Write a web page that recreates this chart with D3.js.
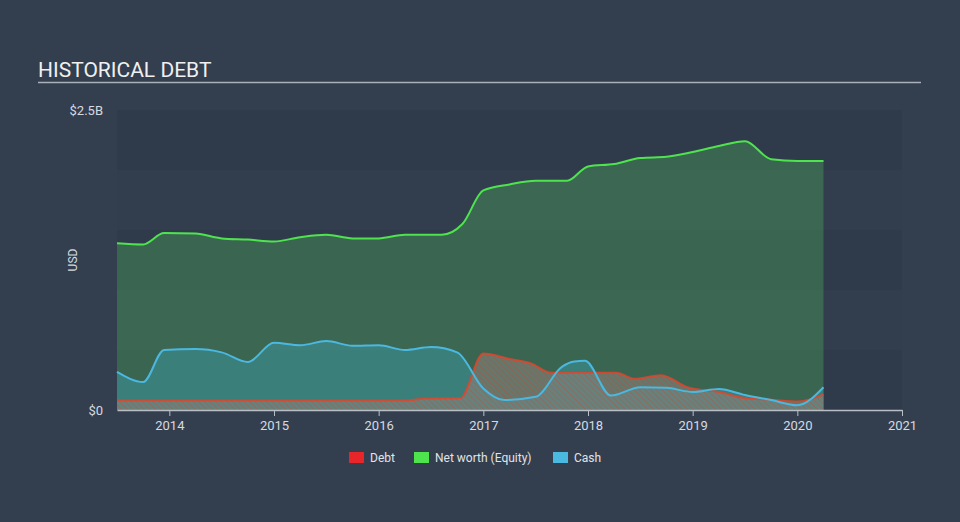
<!DOCTYPE html>
<html>
<head>
<meta charset="utf-8">
<script src="https://cdn.jsdelivr.net/npm/d3@7"></script>
<style>
  body { margin: 0; background: #333f4f; }
  svg { display: block; font-family: Roboto, "Open Sans", sans-serif; }
</style>
</head>
<body>
<svg id="chart" width="960" height="522"></svg>
<script>
// values in billions USD, dates as decimal years
const debtDates = [2013.5, 2014, 2015, 2016, 2016.25, 2016.45, 2016.78, 2017.0, 2017.25, 2017.45, 2017.65, 2018.0, 2018.27, 2018.45, 2018.7, 2018.95, 2019.25, 2019.5, 2019.75, 2020.0, 2020.25];
const debtValues = [0.08, 0.08, 0.08, 0.08, 0.08, 0.095, 0.10, 0.47, 0.425, 0.39, 0.31, 0.31, 0.31, 0.26, 0.29, 0.19, 0.15, 0.10, 0.085, 0.07, 0.13];

const equityDates = [2013.5, 2013.75, 2013.95, 2014.25, 2014.5, 2014.75, 2015.0, 2015.25, 2015.5, 2015.75, 2016.0, 2016.25, 2016.6, 2016.8, 2017.0, 2017.25, 2017.5, 2017.8, 2018.0, 2018.25, 2018.5, 2018.75, 2019.0, 2019.25, 2019.5, 2019.75, 2020.0, 2020.25];
const equityValues = [1.39, 1.38, 1.475, 1.47, 1.43, 1.42, 1.405, 1.44, 1.46, 1.43, 1.43, 1.46, 1.46, 1.55, 1.83, 1.88, 1.91, 1.91, 2.03, 2.05, 2.10, 2.11, 2.15, 2.20, 2.24, 2.09, 2.075, 2.075];

const cashDates = [2013.5, 2013.75, 2013.95, 2014.25, 2014.5, 2014.75, 2015.0, 2015.25, 2015.5, 2015.75, 2016.0, 2016.25, 2016.5, 2016.75, 2017.0, 2017.2, 2017.5, 2017.75, 2017.87, 2017.97, 2018.22, 2018.5, 2018.75, 2019.0, 2019.25, 2019.5, 2019.75, 2020.0, 2020.25];
const cashValues = [0.317, 0.233, 0.50, 0.508, 0.48, 0.40, 0.56, 0.54, 0.575, 0.535, 0.54, 0.50, 0.525, 0.48, 0.18, 0.083, 0.11, 0.36, 0.405, 0.41, 0.12, 0.19, 0.185, 0.15, 0.175, 0.125, 0.083, 0.04, 0.19];

const yearTicks = [2014, 2015, 2016, 2017, 2018, 2019, 2020, 2021];
const bandEdges = [0, 0.5, 1, 1.5, 2, 2.5];
const legendItems = [
  { name: "Debt", color: "#e8262a" },
  { name: "Net worth (Equity)", color: "#4ee44e" },
  { name: "Cash", color: "#4bb8e0" }
];

const svg = d3.select("#chart");
const margin = { left: 117, right: 58, top: 110, bottom: 112 };
const width = 960, height = 522;

const x = d3.scaleLinear().domain([2013.5, 2021]).range([margin.left, width - margin.right]);
const y = d3.scaleLinear().domain([0, 2.5]).range([height - margin.bottom, margin.top]);

// title
svg.append("text")
  .attr("x", 38).attr("y", 77)
  .attr("fill", "#f0f0f0")
  .attr("font-size", 21)
  .text("HISTORICAL DEBT");
svg.append("line")
  .attr("x1", 38).attr("x2", 921)
  .attr("y1", 82.5).attr("y2", 82.5)
  .attr("stroke", "#a9b0b9").attr("stroke-width", 1.5);

// background bands
const bands = d3.pairs(bandEdges);
svg.append("g").selectAll("rect")
  .data(bands)
  .join("rect")
  .attr("x", x.range()[0])
  .attr("width", x.range()[1] - x.range()[0])
  .attr("y", d => y(d[1]))
  .attr("height", d => y(d[0]) - y(d[1]))
  .attr("fill", (d, i) => i % 2 === 0 ? "#2f3b4a" : "#323e4e");

// hatch pattern for debt
const defs = svg.append("defs");
const pat = defs.append("pattern")
  .attr("id", "hatch")
  .attr("patternUnits", "userSpaceOnUse")
  .attr("width", 4).attr("height", 4)
  .attr("patternTransform", "rotate(-45)");
pat.append("rect").attr("width", 4).attr("height", 4).attr("fill", "#8a8480").attr("opacity", 0.55);
pat.append("line").attr("x1", 0).attr("y1", 0).attr("x2", 0).attr("y2", 4)
  .attr("stroke", "#b8503c").attr("stroke-width", 1.6).attr("opacity", 0.6);

const toPts = (dates, vals) => dates.map((d, i) => [d, vals[i]]);
const equity = toPts(equityDates, equityValues);
const cash = toPts(cashDates, cashValues);
const debt = toPts(debtDates, debtValues);

const curve = d3.curveMonotoneX;
const area = d3.area().x(d => x(d[0])).y0(y(0)).y1(d => y(d[1])).curve(curve);
const line = d3.line().x(d => x(d[0])).y(d => y(d[1])).curve(curve);

svg.append("path").datum(equity).attr("d", area)
  .attr("fill", "#4a9a5a").attr("fill-opacity", 0.45);
svg.append("path").datum(cash).attr("d", area)
  .attr("fill", "#3fa0b0").attr("fill-opacity", 0.45);
svg.append("path").datum(debt).attr("d", area)
  .attr("fill", "url(#hatch)");

svg.append("path").datum(debt).attr("d", line)
  .attr("fill", "none").attr("stroke", "#e0452a").attr("stroke-width", 2).attr("stroke-opacity", 0.85);
svg.append("path").datum(equity).attr("d", line)
  .attr("fill", "none").attr("stroke", "#4ee44e").attr("stroke-width", 2);
svg.append("path").datum(cash).attr("d", line)
  .attr("fill", "none").attr("stroke", "#4bb8e0").attr("stroke-width", 2);

// x axis
const xAxis = svg.append("g")
  .attr("transform", `translate(0,${y(0)})`)
  .call(d3.axisBottom(x).tickValues(yearTicks).tickFormat(d3.format("d")).tickSize(6).tickSizeOuter(0));
xAxis.select(".domain").attr("stroke", "#b8bec6").attr("stroke-width", 1.5);
xAxis.selectAll(".tick line").attr("stroke", "#b8bec6");
xAxis.selectAll(".tick text").attr("fill", "#d6dae0").attr("font-size", 13).attr("dy", "0.85em")
  .attr("font-family", "Roboto, sans-serif");

// y labels
svg.append("g").selectAll("text")
  .data([0, 2.5])
  .join("text")
  .attr("x", 103)
  .attr("y", d => y(d))
  .attr("dy", "0.35em")
  .attr("text-anchor", "end")
  .attr("fill", "#d6dae0")
  .attr("font-size", 13)
  .text(d => d === 0 ? "$0" : "$2.5B");

svg.append("text")
  .attr("transform", `translate(77,${(y(0) + y(2.5)) / 2}) rotate(-90)`)
  .attr("text-anchor", "middle")
  .attr("fill", "#d6dae0")
  .attr("font-size", 12)
  .text("USD");

// legend
const legendX = [349, 414, 553];
const lg = svg.append("g").selectAll("g")
  .data(legendItems)
  .join("g")
  .attr("transform", (d, i) => `translate(${legendX[i]},452)`);
lg.append("rect").attr("width", 15).attr("height", 11).attr("fill", d => d.color);
lg.append("text").attr("x", 21).attr("y", 10).attr("fill", "#e0e3e8").attr("font-size", 12)
  .text(d => d.name);
</script>
</body>
</html>
